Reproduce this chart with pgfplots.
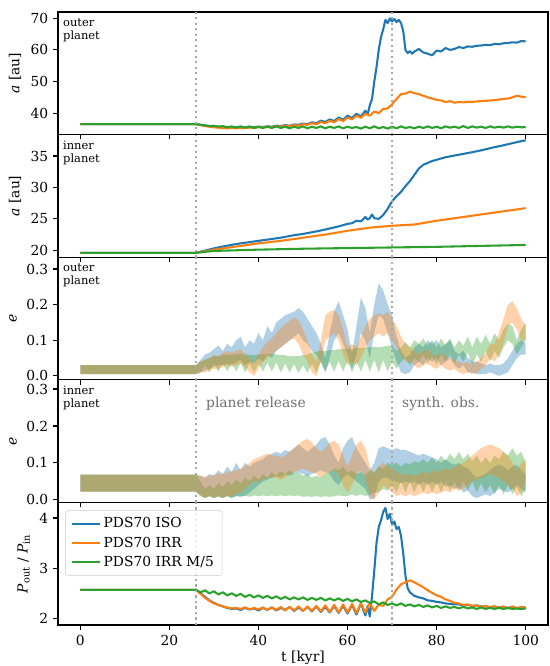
\documentclass[border=0pt]{standalone}
\usepackage{fontspec}
\setmainfont{DejaVu Serif}
\usepackage{pgfplots}
\usepackage{pgfplotstable}
\pgfplotsset{compat=1.18}
\usepgfplotslibrary{fillbetween}

\definecolor{cIso}{HTML}{1F77B4}
\definecolor{cIrr}{HTML}{FF7F0E}
\definecolor{cMf}{HTML}{2CA02C}
\definecolor{vgray}{HTML}{A8A8A8}
\definecolor{tgray}{HTML}{707070}

% eccentricity envelopes of the outer planet: t [kyr], lower and upper e
\pgfplotstableread{
t lo hi
0 0.005 0.03
26 0.005 0.03
27 0.01 0.045
28 0.015 0.06
29 0.02 0.065
30 0.025 0.075
31 0.03 0.085
32 0.03 0.07
33 0.035 0.09
34 0.03 0.08
35 0.04 0.1
36 0.045 0.11
37 0.03 0.08
38 0.04 0.1
39 0.035 0.09
40 0.05 0.12
41 0.04 0.1
42 0.06 0.14
43 0.05 0.12
44 0.07 0.15
45 0.08 0.16
46 0.09 0.17
47 0.1 0.175
48 0.11 0.18
49 0.12 0.19
50 0.1 0.18
51 0.09 0.16
52 0.07 0.14
53 0.06 0.12
54 0.04 0.09
55 0.01 0.05
56 0.05 0.12
57 0.1 0.18
58 0.12 0.21
59 0.09 0.17
60 0.06 0.13
61 0.02 0.06
62 0.06 0.14
63 0.12 0.22
64 0.1 0.19
65 0.05 0.12
66 0.12 0.2
67 0.17 0.26
68 0.16 0.24
69 0.12 0.2
70 0.08 0.17
71 0.04 0.11
72 0.01 0.07
73 0.005 0.05
74 0.01 0.06
75 0.03 0.08
76 0.04 0.09
77 0.03 0.08
78 0.05 0.1
79 0.04 0.09
80 0.05 0.1
81 0.03 0.08
82 0.04 0.09
83 0.05 0.1
84 0.03 0.07
85 0.02 0.06
86 0.03 0.07
87 0.01 0.05
88 0.01 0.04
89 0.005 0.04
90 0.005 0.035
91 0.005 0.03
92 0.01 0.035
93 0.005 0.03
94 0.0 0.03
95 0.005 0.035
96 0.01 0.05
97 0.03 0.07
98 0.05 0.09
99 0.06 0.1
100 0.06 0.09
}\eOutIso

\pgfplotstableread{
t lo hi
0 0.005 0.03
26 0.005 0.03
27 0.01 0.04
28 0.01 0.045
29 0.015 0.05
30 0.02 0.06
31 0.02 0.055
32 0.025 0.065
33 0.03 0.07
34 0.025 0.065
35 0.03 0.07
36 0.035 0.075
37 0.025 0.06
38 0.01 0.05
39 0.0 0.035
40 0.02 0.06
41 0.04 0.08
42 0.05 0.095
43 0.06 0.105
44 0.07 0.12
45 0.08 0.135
46 0.09 0.145
47 0.1 0.155
48 0.105 0.165
49 0.09 0.155
50 0.06 0.13
51 0.04 0.1
52 0.01 0.06
53 0.0 0.04
54 0.04 0.1
55 0.1 0.17
56 0.11 0.18
57 0.12 0.185
58 0.1 0.17
59 0.06 0.13
60 0.03 0.08
61 0.04 0.09
62 0.03 0.08
63 0.05 0.11
64 0.08 0.14
65 0.1 0.16
66 0.11 0.17
67 0.12 0.175
68 0.11 0.17
69 0.12 0.18
70 0.1 0.16
71 0.08 0.14
72 0.06 0.11
73 0.04 0.09
74 0.04 0.08
75 0.03 0.07
76 0.02 0.06
77 0.03 0.07
78 0.035 0.075
79 0.025 0.06
80 0.02 0.055
81 0.03 0.065
82 0.02 0.055
83 0.015 0.05
84 0.02 0.045
85 0.01 0.04
86 0.005 0.035
87 0.01 0.04
88 0.005 0.03
89 0.01 0.04
90 0.02 0.05
91 0.03 0.065
92 0.05 0.09
93 0.04 0.09
94 0.06 0.12
95 0.09 0.16
96 0.14 0.2
97 0.15 0.21
98 0.13 0.19
99 0.1 0.16
100 0.1 0.14
}\eOutIrr

\pgfplotstableread{
t lo hi
0 0.005 0.03
26 0.005 0.03
27 0.01 0.04
28 0.03 0.045
29 0.01 0.05
30 0.035 0.055
31 0.012 0.055
32 0.035 0.058
33 0.012 0.06
34 0.037 0.06
35 0.012 0.06
36 0.037 0.062
37 0.01 0.06
38 0.035 0.06
39 0.01 0.058
40 0.035 0.06
41 0.012 0.06
42 0.037 0.062
43 0.012 0.062
44 0.038 0.06
45 0.01 0.058
46 0.035 0.058
47 0.01 0.055
48 0.033 0.056
49 0.008 0.055
50 0.03 0.058
51 0.008 0.06
52 0.035 0.065
53 0.01 0.068
54 0.04 0.07
55 0.012 0.07
56 0.04 0.072
57 0.012 0.072
58 0.042 0.075
59 0.012 0.075
60 0.042 0.076
61 0.01 0.075
62 0.04 0.078
63 0.012 0.078
64 0.045 0.08
65 0.012 0.08
66 0.045 0.082
67 0.01 0.08
68 0.045 0.082
69 0.012 0.085
70 0.04 0.085
71 0.02 0.07
72 0.04 0.08
73 0.05 0.095
74 0.03 0.08
75 0.05 0.1
76 0.04 0.09
77 0.06 0.105
78 0.035 0.085
79 0.055 0.1
80 0.03 0.08
81 0.06 0.105
82 0.04 0.085
83 0.06 0.105
84 0.035 0.08
85 0.06 0.1
86 0.04 0.085
87 0.065 0.11
88 0.03 0.08
89 0.06 0.11
90 0.04 0.09
91 0.07 0.115
92 0.04 0.09
93 0.07 0.12
94 0.05 0.1
95 0.08 0.13
96 0.1 0.145
97 0.09 0.14
98 0.06 0.1
99 0.08 0.13
100 0.1 0.15
}\eOutMf

% eccentricity envelopes of the inner planet
\pgfplotstableread{
t lo hi
0 0.022 0.068
26 0.022 0.068
27 0.01 0.065
28 0.005 0.06
29 0.01 0.07
30 0.005 0.065
31 0.01 0.08
32 0.005 0.07
33 0.01 0.09
34 0.005 0.075
35 0.01 0.1
36 0.01 0.08
37 0.01 0.1
38 0.02 0.09
39 0.03 0.1
40 0.04 0.105
41 0.05 0.11
42 0.055 0.12
43 0.06 0.125
44 0.065 0.13
45 0.06 0.125
46 0.07 0.135
47 0.065 0.13
48 0.07 0.14
49 0.075 0.15
50 0.07 0.14
51 0.065 0.13
52 0.07 0.14
53 0.075 0.15
54 0.08 0.165
55 0.075 0.17
56 0.07 0.15
57 0.05 0.12
58 0.04 0.1
59 0.06 0.14
60 0.07 0.16
61 0.06 0.17
62 0.05 0.14
63 0.04 0.12
64 0.03 0.1
65 0.0 0.08
66 0.005 0.1
67 0.05 0.14
68 0.06 0.145
69 0.06 0.14
70 0.05 0.135
71 0.05 0.14
72 0.045 0.135
73 0.05 0.135
74 0.045 0.13
75 0.05 0.125
76 0.04 0.12
77 0.05 0.125
78 0.04 0.12
79 0.05 0.115
80 0.04 0.11
81 0.05 0.1
82 0.035 0.11
83 0.04 0.1
84 0.03 0.095
85 0.035 0.1
86 0.02 0.09
87 0.025 0.085
88 0.01 0.07
89 0.005 0.06
90 0.01 0.065
91 0.015 0.07
92 0.01 0.08
93 0.02 0.09
94 0.03 0.095
95 0.025 0.09
96 0.02 0.08
97 0.03 0.09
98 0.04 0.095
99 0.03 0.08
100 0.02 0.07
}\eInIso

\pgfplotstableread{
t lo hi
0 0.022 0.068
26 0.022 0.068
27 0.01 0.065
28 0.005 0.062
29 0.01 0.065
30 0.005 0.068
31 0.01 0.07
32 0.005 0.07
33 0.01 0.075
34 0.01 0.078
35 0.015 0.08
36 0.02 0.085
37 0.03 0.09
38 0.04 0.1
39 0.05 0.11
40 0.05 0.115
41 0.055 0.12
42 0.06 0.125
43 0.06 0.12
44 0.06 0.12
45 0.055 0.115
46 0.06 0.12
47 0.07 0.13
48 0.075 0.14
49 0.08 0.15
50 0.085 0.16
51 0.08 0.165
52 0.075 0.155
53 0.07 0.14
54 0.06 0.13
55 0.07 0.14
56 0.075 0.155
57 0.08 0.16
58 0.07 0.15
59 0.04 0.12
60 0.02 0.09
61 0.04 0.12
62 0.07 0.15
63 0.08 0.16
64 0.06 0.14
65 0.01 0.09
66 0.0 0.07
67 0.02 0.09
68 0.04 0.1
69 0.03 0.09
70 0.02 0.085
71 0.01 0.075
72 0.015 0.07
73 0.01 0.065
74 0.015 0.07
75 0.01 0.065
76 0.015 0.07
77 0.02 0.075
78 0.015 0.07
79 0.02 0.08
80 0.015 0.075
81 0.02 0.08
82 0.025 0.085
83 0.02 0.08
84 0.03 0.09
85 0.025 0.095
86 0.03 0.1
87 0.04 0.11
88 0.05 0.12
89 0.055 0.13
90 0.06 0.14
91 0.065 0.145
92 0.07 0.15
93 0.065 0.145
94 0.06 0.14
95 0.05 0.13
96 0.04 0.12
97 0.03 0.1
98 0.01 0.08
99 0.02 0.1
100 0.05 0.11
}\eInIrr

\pgfplotstableread{
t lo hi
0 0.022 0.068
26 0.022 0.068
27 0.015 0.05
28 0.005 0.03
29 0.01 0.04
30 0.005 0.03
31 0.008 0.045
32 0.005 0.035
33 0.01 0.05
34 0.005 0.04
35 0.01 0.055
36 0.008 0.045
37 0.012 0.06
38 0.008 0.05
39 0.012 0.065
40 0.01 0.055
41 0.012 0.07
42 0.01 0.06
43 0.012 0.075
44 0.01 0.065
45 0.012 0.078
46 0.01 0.07
47 0.012 0.08
48 0.01 0.07
49 0.012 0.075
50 0.008 0.065
51 0.01 0.07
52 0.008 0.06
53 0.01 0.065
54 0.008 0.06
55 0.01 0.07
56 0.008 0.075
57 0.01 0.085
58 0.012 0.08
59 0.01 0.09
60 0.01 0.075
61 0.015 0.08
62 0.01 0.07
63 0.015 0.075
64 0.01 0.065
65 0.015 0.08
66 0.02 0.075
67 0.02 0.09
68 0.03 0.085
69 0.025 0.1
70 0.04 0.095
71 0.02 0.1
72 0.05 0.09
73 0.02 0.1
74 0.05 0.095
75 0.02 0.105
76 0.05 0.1
77 0.02 0.11
78 0.05 0.1
79 0.02 0.115
80 0.05 0.1
81 0.02 0.12
82 0.05 0.105
83 0.025 0.125
84 0.05 0.11
85 0.025 0.13
86 0.05 0.11
87 0.025 0.125
88 0.05 0.105
89 0.02 0.12
90 0.045 0.1
91 0.02 0.115
92 0.04 0.1
93 0.015 0.12
94 0.04 0.11
95 0.015 0.13
96 0.04 0.12
97 0.015 0.14
98 0.035 0.12
99 0.01 0.13
100 0.03 0.1
}\eInMf

\newcommand\eband[2]{% #1 table, #2 colour
  \addplot[name path=#2hi, draw=none, forget plot] table[x=t, y=hi] {#1};
  \addplot[name path=#2lo, draw=none, forget plot] table[x=t, y=lo] {#1};
  \addplot[draw=none, fill=#2, fill opacity=0.35, forget plot] fill between[of=#2hi and #2lo];
}

\newcommand\marklines{%
  \draw[vgray, line width=1.5pt, dash pattern=on 1.5pt off 2.475pt]
    ({axis cs:26,0} |- {rel axis cs:0,0}) -- ({axis cs:26,0} |- {rel axis cs:0,1});
  \draw[vgray, line width=1.5pt, dash pattern=on 1.5pt off 2.475pt]
    ({axis cs:70,0} |- {rel axis cs:0,0}) -- ({axis cs:70,0} |- {rel axis cs:0,1});
}

\tikzset{
  tag/.style={anchor=north west, inner sep=0pt, align=left,
    font=\fontsize{8.3}{9.6}\selectfont},
  note/.style={anchor=base west, inner sep=0pt, text=tgray,
    font=\fontsize{10}{12}\selectfont},
}

\pgfplotsset{
  panel/.style={
    scale only axis, width=4.9in, height=1.226in,
    xmin=-5, xmax=105, xtick={0,20,40,60,80,100},
    tick align=outside, tick pos=left,
    major tick length=3.5pt,
    every tick/.style={black, line width=0.8pt},
    axis line style={line width=0.8pt},
    tick label style={font=\fontsize{10}{12}\selectfont},
    label style={font=\fontsize{10}{12}\selectfont},
    /pgf/number format/assume math mode=true,
    every axis plot/.append style={line width=1.5pt, line join=round},
  },
  inner/.style={xticklabels={}},
}

\begin{document}
\begin{tikzpicture}

% semi-major axis, outer planet
\begin{axis}[panel, inner, name=p1, at={(0,0)}, anchor=north west,
  ymin=33.2, ymax=72, ytick={40,50,60,70},
  ylabel={\textit{a} [au]}]
\addplot[cIso] table {
0 36.5
26 36.5
27 36.3
28 36.1
29 35.9
30 35.8
31 35.7
32 35.6
33 35.5
34 35.6
35 35.5
36 35.6
37 35.4
38 35.6
39 35.5
40 35.7
41 35.6
42 35.8
43 35.7
44 36.0
45 35.9
46 36.2
47 36.0
48 36.4
49 36.3
50 36.7
51 36.5
52 37.1
53 36.8
54 37.6
55 37.2
56 38.0
57 37.5
58 38.6
59 37.9
60 39.2
61 38.4
62 39.8
63 38.9
64 40.8
64.5 39.5
65 42.5
65.5 44.5
66 50.0
66.5 54.5
67 60.0
67.5 64.0
68 66.5
68.5 69.5
69 68.5
69.5 70.0
70 69.0
70.5 69.8
71 68.8
71.5 69.5
72 68.5
72.5 66.0
73 60.0
73.5 59.0
74 59.6
74.5 58.8
75 59.5
76 60.3
77 59.2
78 58.8
79 58.3
80 59.8
81 59.5
82 60.6
83 60.0
84 60.3
85 60.9
86 60.6
87 61.1
88 61.0
89 61.3
90 61.4
91 61.6
92 61.5
93 61.9
94 61.8
95 62.1
96 62.2
97 62.4
98 62.3
99 62.8
100 62.7
};
\addplot[cIrr] table {
0 36.5
26 36.5
27 36.2
28 35.9
29 35.7
30 35.5
31 35.4
32 35.3
33 35.2
34 35.3
35 35.2
36 35.3
37 35.3
38 35.4
39 35.4
40 35.5
41 35.5
42 35.6
43 35.6
44 35.8
45 35.7
46 36.0
47 35.9
48 36.2
49 36.0
50 36.5
51 36.3
52 36.8
53 36.5
54 37.2
55 36.8
56 37.6
57 37.1
58 38.1
59 37.5
60 38.6
61 38.0
62 39.2
63 38.5
64 39.8
65 39.2
66 40.5
67 40.0
68 41.3
69 41.5
70 42.8
71 44.5
72 46.0
73 46.2
74 46.8
75 46.3
76 46.0
77 45.5
78 45.0
79 44.6
80 44.2
81 44.0
82 43.5
83 43.8
84 43.3
85 43.5
86 43.4
87 43.6
88 43.5
89 43.7
90 43.8
91 43.9
92 44.0
93 44.1
94 44.3
95 44.5
96 44.6
97 45.0
98 45.5
99 45.2
100 45.0
};
\addplot[cMf] table {
0 36.5
26 36.5
27 36.3
28 36.1
29 35.9
30 36.0
31 35.7
32 35.9
33 35.5
34 35.8
35 35.4
36 35.8
37 35.4
38 35.8
39 35.3
40 35.7
41 35.3
42 35.7
43 35.3
44 35.8
45 35.3
46 35.7
47 35.2
48 35.7
49 35.3
50 35.8
51 35.2
52 35.7
53 35.3
54 35.8
55 35.2
56 35.7
57 35.3
58 35.8
59 35.2
60 35.7
61 35.3
62 35.6
63 35.1
64 35.7
65 35.2
66 35.8
67 35.2
68 35.6
69 35.1
70 35.7
71 35.2
72 35.8
73 35.3
74 35.6
75 35.2
76 35.7
77 35.3
78 35.8
79 35.3
80 35.7
81 35.2
82 35.8
83 35.4
84 35.7
85 35.3
86 35.9
87 35.3
88 35.8
89 35.4
90 35.7
91 35.3
92 35.8
93 35.4
94 35.7
95 35.4
96 35.8
97 35.4
98 35.7
99 35.5
100 35.6
};
\marklines
\node[tag] at (rel axis cs:0.01,0.95) {outer\\planet};
\end{axis}

% semi-major axis, inner planet
\begin{axis}[panel, inner, name=p2, at={(p1.south west)}, anchor=north west,
  ymin=18.9, ymax=38.4, ytick={20,25,30,35},
  ylabel={\textit{a} [au]}]
\addplot[cIso] table {
0 19.6
26 19.6
28 19.95
30 20.3
32 20.6
35 21.0
38 21.3
40 21.5
43 21.8
45 22.0
48 22.4
50 22.6
53 23.0
55 23.3
58 23.8
60 24.2
61 24.3
62 24.7
63 24.6
64 25.3
64.5 24.9
65 25.1
65.5 25.7
66 25.1
67 25.0
68 25.6
69 26.6
70 27.8
71 28.6
72 29.3
73 30.2
74 31.0
75 32.0
76 33.0
77 33.6
78 33.9
79 34.2
80 34.4
82 34.8
85 35.2
88 35.6
90 35.9
93 36.4
95 36.7
98 37.2
100 37.5
};
\addplot[cIrr] table {
0 19.6
26 19.6
28 19.85
30 20.1
35 20.6
40 21.1
45 21.5
50 22.0
55 22.5
60 23.1
65 23.6
70 23.9
75 24.1
80 24.7
85 25.2
90 25.7
95 26.2
100 26.7
};
\addplot[cMf] table {
0 19.6
26 19.6
30 19.9
40 20.1
50 20.25
60 20.35
70 20.45
80 20.55
90 20.7
100 20.85
};
\marklines
\node[tag] at (rel axis cs:0.01,0.95) {inner\\planet};
\end{axis}

% eccentricity, outer planet
\begin{axis}[panel, inner, name=p3, at={(p2.south west)}, anchor=north west,
  ymin=-0.011, ymax=0.333, ytick={0,0.1,0.2,0.3}, yticklabels={0.0,0.1,0.2,0.3},
  ylabel={\textit{e}}]
\eband{\eOutIso}{cIso}
\eband{\eOutMf}{cMf}
\eband{\eOutIrr}{cIrr}
\marklines
\node[tag] at (rel axis cs:0.01,0.95) {outer\\planet};
\end{axis}

% eccentricity, inner planet
\begin{axis}[panel, inner, name=p4, at={(p3.south west)}, anchor=north west,
  ymin=-0.007, ymax=0.325, ytick={0,0.1,0.2,0.3}, yticklabels={0.0,0.1,0.2,0.3},
  ylabel={\textit{e}}]
\eband{\eInIso}{cIso}
\eband{\eInMf}{cMf}
\eband{\eInIrr}{cIrr}
\marklines
\node[tag] at (rel axis cs:0.01,0.95) {inner\\planet};
\node[note] at (axis cs:28.2,0.25) {planet release};
\node[note] at (axis cs:72.2,0.25) {synth. obs.};
\end{axis}

% period ratio
\begin{axis}[panel, name=p5, at={(p4.south west)}, anchor=north west,
  ymin=1.87, ymax=4.31, ytick={2,3,4},
  xlabel={t [kyr]}, xlabel style={yshift=3pt},
  ylabel={\textit{P}\textsubscript{out} / \textit{P}\textsubscript{in}},
  legend cell align=left,
  legend image code/.code={\draw[#1] (0in,0in) -- (0.28in,0in);},
  legend style={at={(rel axis cs:0,1)}, anchor=north west,
    xshift=0.07in, yshift=-0.08in,
    draw=black!20, rounded corners=2pt, fill=white, fill opacity=0.8,
    text opacity=1, font=\fontsize{10}{12}\selectfont, row sep=1pt,
    inner xsep=4pt, inner ysep=3pt}]
\addplot[cIso] table {
0 2.57
26 2.57
27 2.5
28 2.43
29 2.36
30 2.31
31 2.27
32 2.24
33 2.21
34 2.19
35 2.2
36 2.17
37 2.21
38 2.18
39 2.2
40 2.16
41 2.21
42 2.17
43 2.22
44 2.16
45 2.21
46 2.17
47 2.23
48 2.15
49 2.22
50 2.15
51 2.23
52 2.14
53 2.24
54 2.13
55 2.23
56 2.12
57 2.25
58 2.11
59 2.25
60 2.1
61 2.27
62 2.08
63 2.3
64 2.06
64.5 2.25
65 2.04
65.5 2.45
66 2.95
66.5 3.5
67 3.82
67.5 3.95
68 4.12
68.5 4.2
69 3.98
69.5 4.08
70 3.86
70.5 3.93
71 3.78
71.5 3.82
72 3.65
72.5 3.3
73 2.85
73.5 2.6
74 2.52
75 2.45
76 2.42
77 2.4
78 2.36
79 2.35
80 2.33
81 2.32
82 2.3
83 2.29
84 2.28
85 2.28
86 2.26
87 2.27
88 2.25
89 2.26
90 2.24
91 2.24
92 2.23
93 2.24
94 2.22
95 2.23
96 2.21
97 2.23
98 2.21
99 2.22
100 2.22
};
\addlegendentry{PDS70 ISO}
\addplot[cIrr] table {
0 2.57
26 2.57
27 2.49
28 2.41
29 2.35
30 2.3
31 2.27
32 2.24
33 2.22
34 2.2
35 2.21
36 2.19
37 2.22
38 2.18
39 2.21
40 2.18
41 2.22
42 2.17
43 2.22
44 2.17
45 2.23
46 2.16
47 2.23
48 2.16
49 2.24
50 2.15
51 2.24
52 2.15
53 2.25
54 2.14
55 2.26
56 2.13
57 2.27
58 2.12
59 2.28
60 2.12
61 2.29
62 2.11
63 2.3
64 2.12
65 2.3
66 2.15
67 2.28
68 2.25
69 2.38
70 2.43
71 2.58
72 2.68
73 2.72
74 2.76
75 2.72
76 2.67
77 2.62
78 2.56
79 2.51
80 2.46
81 2.43
82 2.38
83 2.35
84 2.31
85 2.3
86 2.27
87 2.28
88 2.25
89 2.26
90 2.23
91 2.25
92 2.22
93 2.24
94 2.21
95 2.24
96 2.2
97 2.24
98 2.2
99 2.23
100 2.21
};
\addlegendentry{PDS70 IRR}
\addplot[cMf] table {
0 2.57
26 2.57
27 2.52
28 2.56
29 2.5
30 2.54
31 2.48
32 2.52
33 2.46
34 2.5
35 2.45
36 2.49
37 2.43
38 2.47
39 2.42
40 2.46
41 2.41
42 2.45
43 2.4
44 2.44
45 2.39
46 2.43
47 2.38
48 2.42
49 2.38
50 2.42
51 2.37
52 2.41
53 2.37
54 2.41
55 2.36
56 2.4
57 2.36
58 2.4
59 2.35
60 2.39
61 2.34
62 2.38
63 2.33
64 2.36
65 2.31
66 2.34
67 2.28
68 2.32
69 2.27
70 2.3
71 2.26
72 2.3
73 2.25
74 2.28
75 2.24
76 2.27
77 2.23
78 2.26
79 2.22
80 2.25
81 2.21
82 2.24
83 2.21
84 2.23
85 2.2
86 2.23
87 2.2
88 2.22
89 2.19
90 2.22
91 2.19
92 2.21
93 2.19
94 2.21
95 2.19
96 2.21
97 2.19
98 2.2
99 2.19
100 2.2
};
\addlegendentry{PDS70 IRR M/5}
\marklines
\end{axis}

\pgfresetboundingbox
\path[use as bounding box] (-0.58in,0.12in) rectangle (4.92in,-6.54in);
\end{tikzpicture}
\end{document}
